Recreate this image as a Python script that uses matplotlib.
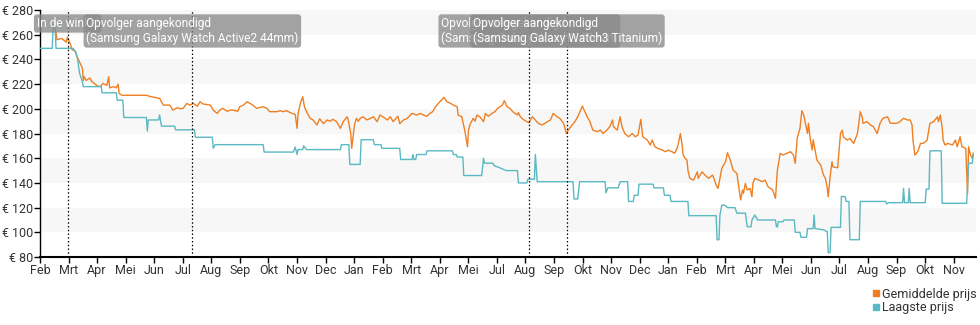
import matplotlib
matplotlib.use("Agg")
import matplotlib.pyplot as plt
from matplotlib.lines import Line2D
from matplotlib.transforms import blended_transform_factory

plt.rcParams['font.family'] = ['Roboto', 'DejaVu Sans']

# ---- data (x = days since first tick) ----
month_labels = ["Feb", "Mrt", "Apr", "Mei", "Jun", "Jul", "Aug", "Sep", "Okt", "Nov", "Dec", "Jan",
                "Feb", "Mrt", "Apr", "Mei", "Jul", "Aug", "Sep", "Okt", "Nov", "Dec", "Jan",
                "Feb", "Mrt", "Apr", "Mei", "Jun", "Jul", "Aug", "Sep", "Okt", "Nov"]
tick_step_days = 30.32

low_days = [0, 13, 14, 16, 17, 35, 38, 40, 42, 45, 46, 65, 66, 81, 82, 88, 89, 113, 114, 115, 126, 127, 129,
            143, 144, 164, 165, 183, 184, 186, 237, 238, 269, 271, 273, 274, 279, 280, 283, 319, 320, 328,
            329, 340, 341, 354, 355, 362, 363, 382, 383, 395, 396, 397, 399, 400, 410, 411, 438, 439, 442,
            443, 449, 450, 469, 471, 472, 481, 482, 489, 495, 507, 508, 517, 518, 525, 526, 528, 566, 567,
            571, 573, 600, 601, 603, 614, 616, 624, 625, 630, 631, 635, 636, 651, 652, 662, 663, 669, 670,
            688, 689, 718, 719, 721, 722, 724, 727, 730, 738, 740, 749, 750, 751, 755, 756, 759, 762, 781,
            782, 783, 784, 789, 790, 801, 802, 807, 808, 814, 815, 821, 822, 823, 832, 836, 837, 839, 840,
            850, 851, 855, 856, 859, 860, 870, 871, 898, 899, 901, 916, 917, 918, 922, 923, 924, 940, 941,
            944, 945, 957, 958, 984, 986, 990, 991]
low_price = [249, 249, 268, 268, 249, 249, 246, 240, 229, 222, 218, 218, 213, 213, 207, 207, 193, 193, 182, 191,
             191, 195, 186, 186, 183, 183, 177, 177, 168, 171, 171, 165, 165, 169, 163, 167, 167, 170, 167,
             167, 171, 171, 155, 155, 175, 175, 171, 171, 168, 168, 159, 159, 163, 159, 159, 163, 163, 166,
             166, 163, 163, 161, 161, 146, 146, 160, 156, 156, 154, 152, 150, 150, 140, 140, 143, 143, 163,
             141, 141, 127, 127, 141, 141, 132, 136, 136, 141, 141, 125, 125, 130, 130, 139, 139, 136, 136,
             130, 130, 125, 125, 113.5, 113.5, 94, 94, 114, 122, 122, 120, 120, 115.5, 115.5, 110, 104.5,
             104.5, 110, 114, 110, 110, 104.5, 104.5, 108.6, 108.6, 110, 110, 100, 100, 96, 96, 103, 103,
             114, 103, 102, 100.5, 83.5, 83.5, 104, 104, 129, 129, 125, 125, 94, 94, 125, 125, 123, 124,
             124, 135.6, 124, 124, 135.6, 124, 124, 135, 135, 166, 166, 123.5, 123.5, 156, 156, 163]

avg_days = [17, 18, 23, 28, 29, 30, 32, 34, 37, 39, 42, 45, 46, 47, 49, 53, 55, 57, 61, 64, 67, 71, 73, 74, 78,
            81, 83, 84, 87, 92, 113, 117, 127, 131, 138, 141, 146, 149, 152, 156, 159, 163, 167, 170, 173,
            181, 184, 188, 191, 194, 199, 202, 205, 210, 212, 216, 220, 223, 226, 230, 234, 237, 241, 244,
            252, 255, 258, 262, 266, 271, 273, 274, 277, 279, 281, 284, 287, 290, 294, 297, 301, 305, 308,
            311, 315, 319, 322, 326, 327, 330, 331, 334, 336, 338, 340, 343, 347, 351, 354, 358, 361, 364,
            369, 372, 375, 380, 382, 386, 390, 395, 400, 404, 407, 411, 414, 417, 420, 423, 427, 429, 432,
            436, 439, 443, 444, 448, 449, 451, 454, 455, 457, 460, 462, 464, 467, 471, 473, 476, 480, 483,
            486, 491, 493, 496, 499, 502, 507, 508, 510, 513, 517, 519, 523, 526, 529, 533, 539, 542, 545,
            549, 552, 556, 559, 561, 565, 568, 571, 576, 577, 581, 584, 587, 592, 595, 598, 602, 605, 608,
            609, 613, 616, 618, 621, 625, 629, 632, 635, 638, 640, 645, 648, 650, 653, 656, 661, 664, 667,
            671, 674, 677, 680, 682, 683, 685, 687, 688, 690, 694, 698, 699, 703, 706, 710, 714, 715, 718,
            720, 724, 728, 730, 733, 736, 740, 741, 744, 746, 747, 749, 751, 754, 756, 757, 759, 763, 767,
            770, 773, 778, 781, 783, 786, 789, 793, 797, 800, 802, 804, 807, 809, 811, 815, 816, 818, 820,
            821, 823, 825, 829, 832, 834, 836, 837, 839, 841, 842, 847, 848, 850, 852, 853, 857, 860, 864,
            868, 869, 871, 873, 874, 878, 882, 885, 889, 892, 895, 900, 903, 906, 910, 913, 917, 921, 924,
            926, 927, 929, 932, 935, 938, 942, 945, 949, 953, 954, 956, 958, 959, 961, 964, 969, 972, 974,
            977, 979, 983, 985, 986, 988, 990, 991]
avg_price = [262, 256, 257, 254, 258, 256, 253, 248, 247, 243, 238, 233, 223, 226, 223, 225, 222, 221, 218.5,
             218, 220.6, 219, 226, 217, 218, 217, 220, 212.5, 211, 211, 211, 210, 208.5, 203, 203, 199, 201,
             200, 200.4, 204.4, 203, 204.4, 202, 205.8, 204, 203, 199, 196.3, 199, 200.4, 198, 199, 199,
             198, 201.7, 203, 205.8, 204.4, 203, 200.4, 201.2, 201.7, 200.4, 197.7, 197.7, 198.5, 197.7,
             198.5, 196.8, 195.5, 184.2, 196, 205.8, 209.8, 201, 196.3, 192.3, 191, 186.9, 192, 188, 191,
             190, 191.5, 189.6, 184.2, 189.6, 193.6, 192, 180, 168, 187, 192.3, 190, 192.3, 193.6, 191,
             192.3, 193.6, 189.6, 195, 193.6, 191, 193.6, 189.6, 194, 188, 191, 192.3, 196.3, 195, 196.3,
             195, 194, 196.3, 197.7, 201.7, 204.4, 207.7, 209.3, 205.8, 204.4, 203, 201.7, 195, 193.6,
             189.6, 182.8, 169.3, 182.8, 188, 192.3, 190, 195, 193.6, 189.6, 196.3, 194, 196.3, 197.7,
             200.4, 203, 206.6, 201.7, 200.4, 197.7, 195, 197, 193.6, 191.5, 189.6, 188.8, 193.6, 191,
             188.3, 186.9, 189.6, 191, 196.3, 193.6, 192.3, 188.3, 180, 182.8, 186.9, 189.6, 193.6, 202.3,
             200.4, 193.6, 189.6, 182.8, 181.5, 182.8, 180, 182.8, 185.5, 191, 185.5, 182.8, 193.6, 185.5,
             180, 177.4, 180, 177.4, 178.7, 191.5, 177.4, 174.7, 170.7, 174.7, 169.3, 168, 166.6, 165.3,
             166.6, 165.3, 164, 169, 180, 170, 162.6, 159.9, 158.5, 150.4, 143.7, 142.3, 149, 143.7, 149,
             146.4, 143.7, 146.4, 145, 138.3, 135.6, 151.8, 157.2, 164.5, 158.5, 150.4, 147.7, 142.3,
             126.2, 134.3, 131.6, 139.6, 134.3, 135.6, 128.8, 139.6, 143.7, 142.3, 141, 142.3, 137, 134.3,
             127.5, 150.4, 164, 162.6, 164, 165.3, 162.6, 155.9, 176, 184.2, 198.5, 195, 180, 188.3, 175,
             166.6, 175, 166.6, 158.5, 154.5, 146.4, 143.7, 135.6, 128.8, 145, 157.2, 153, 152.3, 161.3,
             180, 182.8, 177.4, 174.7, 176, 172, 180, 185.5, 197.7, 193.6, 188.3, 189.6, 186.9, 185.5,
             180, 188.3, 192.3, 193.6, 188.3, 188.3, 188.3, 189.6, 192.3, 191, 191, 187, 174.7, 162.6,
             165.3, 172, 172, 174.7, 188.3, 189.6, 193.6, 189.6, 195, 185, 174.7, 170.7, 172, 170.7, 174.7,
             169.3, 177.4, 169.3, 168, 131.6, 169.3, 162.6, 160, 164]

event_days = [29.4, 161.8, 519.7, 560.1]
event_texts = ["In de winkel",
               "Opvolger aangekondigd\n(Samsung Galaxy Watch Active2 44mm)",
               "Opvolger aangekondigd\n(Samsung Galaxy Watch3 45mm)",
               "Opvolger aangekondigd\n(Samsung Galaxy Watch3 Titanium)"]

y_ticks = [80, 100, 120, 140, 160, 180, 200, 220, 240, 260, 280]

ORANGE = '#ef7f22'
TEAL = '#5ab9c2'

fig = plt.figure(figsize=(9.8, 3.25), dpi=100)
ax = fig.add_axes([0.0408, 0.2092, 0.9552, 0.7598])

# background bands
for lo in [100, 140, 180, 220, 260]:
    ax.axhspan(lo, lo + 20, color='#f7f7f7', lw=0, zorder=0)

ax.plot(avg_days, avg_price, color=ORANGE, lw=1.0, zorder=3, label='Gemiddelde prijs')
ax.plot(low_days, low_price, color=TEAL, lw=1.0, zorder=3, label='Laagste prijs')

for d in event_days:
    ax.axvline(d, color='black', lw=0.9, linestyle=(0, (1.2, 1.8)), zorder=4)

trans = blended_transform_factory(ax.transData, ax.transAxes)
for d, t in zip(event_days, event_texts):
    ax.text(d, 0.972, t, transform=trans, ha='center', va='top', ma='left',
            fontsize=8.6, color='white', zorder=6, linespacing=1.15,
            bbox=dict(boxstyle='round,pad=0.22,rounding_size=0.25', fc='#8a8a8a', ec='none', alpha=0.78))

ax.set_xlim(0, 994)
ax.set_ylim(80, 280)
ax.set_yticks(y_ticks)
ax.set_yticklabels([f"€ {v}" for v in y_ticks])
ax.set_xticks([k * tick_step_days for k in range(len(month_labels))])
ax.set_xticklabels(month_labels)
ax.tick_params(axis='both', direction='out', length=4, width=1, color='black',
               labelsize=9, labelcolor='#333333', pad=1)
for s in ['top', 'right']:
    ax.spines[s].set_visible(False)
ax.spines['left'].set_color('black')
ax.spines['left'].set_linewidth(1)
ax.spines['bottom'].set_color('black')
ax.spines['bottom'].set_linewidth(1.5)

handles = [Line2D([], [], marker='s', color=ORANGE, linestyle='none', markersize=5),
           Line2D([], [], marker='s', color=TEAL, linestyle='none', markersize=5)]
fig.legend(handles, ['Gemiddelde prijs', 'Laagste prijs'], loc='upper right',
           bbox_to_anchor=(0.997, 0.115), frameon=False, fontsize=9, handlelength=0.6,
           handletextpad=0.2, labelspacing=0.05, borderpad=0, borderaxespad=0,
           labelcolor='#333333')

fig.savefig('out.png', dpi=100)
